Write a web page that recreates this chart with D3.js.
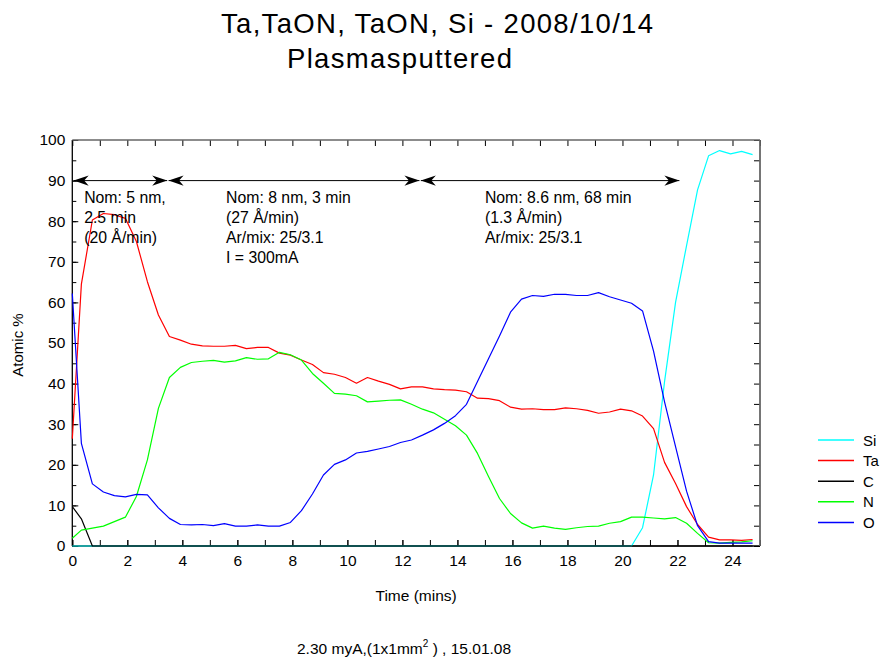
<!DOCTYPE html>
<html>
<head>
<meta charset="utf-8">
<script src="https://cdn.jsdelivr.net/npm/d3@7/dist/d3.min.js"></script>
<style>
  html, body { margin: 0; padding: 0; background: #fff; }
  svg { display: block; font-family: "Liberation Sans", Arial, Helvetica, sans-serif; }
</style>
</head>
<body>
<svg id="chart" width="882" height="659"></svg>
<script>
// Sputter time of each depth-profile cycle (mins)
const times = [0, 0.33, 0.73, 1.13, 1.53, 1.93, 2.33, 2.73, 3.13, 3.53,
  3.93, 4.33, 4.73, 5.13, 5.53, 5.93, 6.33, 6.73, 7.13, 7.53,
  7.93, 8.33, 8.73, 9.13, 9.53, 9.93, 10.33, 10.73, 11.13, 11.53,
  11.93, 12.33, 12.73, 13.13, 13.53, 13.93, 14.33, 14.73, 15.13, 15.53,
  15.93, 16.33, 16.73, 17.13, 17.53, 17.93, 18.33, 18.73, 19.13, 19.53,
  19.93, 20.33, 20.73, 21.13, 21.53, 21.93, 22.33, 22.73, 23.13, 23.53,
  23.93, 24.33, 24.73];

// Atomic % per element
const si = [0, 0, 0, 0, 0, 0, 0, 0, 0, 0,
  0, 0, 0, 0, 0, 0, 0, 0, 0, 0,
  0, 0, 0, 0, 0, 0, 0, 0, 0, 0,
  0, 0, 0, 0, 0, 0, 0, 0, 0, 0,
  0, 0, 0, 0, 0, 0, 0, 0, 0, 0,
  0, 0, 4.5, 17.5, 40.5, 60.0, 74.0, 87.7, 96.1, 97.4,
  96.6, 97.2, 96.4];
const ta = [26.4, 64.5, 80.3, 81.9, 81.6, 80.7, 75.0, 65.1, 56.9, 51.6,
  50.7, 49.7, 49.3, 49.2, 49.2, 49.4, 48.6, 48.9, 48.9, 47.5,
  47.0, 45.8, 44.7, 42.7, 42.3, 41.5, 40.1, 41.5, 40.6, 39.8,
  38.7, 39.2, 39.2, 38.7, 38.5, 38.4, 38.0, 36.4, 36.3, 35.8,
  34.2, 33.7, 33.8, 33.6, 33.6, 34.0, 33.8, 33.4, 32.7, 33.0,
  33.7, 33.3, 32.0, 28.9, 20.6, 15.4, 9.7, 5.3, 2.2, 1.5,
  1.5, 1.4, 1.6];
const c = [9.7, 6.7, 0, 0, 0, 0, 0, 0, 0, 0,
  0, 0, 0, 0, 0, 0, 0, 0, 0, 0,
  0, 0, 0, 0, 0, 0, 0, 0, 0, 0,
  0, 0, 0, 0, 0, 0, 0, 0, 0, 0,
  0, 0, 0, 0, 0, 0, 0, 0, 0, 0,
  0, 0, 0, 0, 0, 0, 0, 0, 0, 0,
  0, 0, 0];
const n = [1.9, 3.9, 4.4, 4.9, 6.0, 7.1, 12.2, 21.2, 33.9, 41.5,
  44.0, 45.2, 45.5, 45.7, 45.3, 45.6, 46.4, 46.0, 46.1, 47.7,
  47.1, 45.8, 42.5, 40.1, 37.6, 37.4, 37.0, 35.5, 35.7, 35.9,
  36.0, 34.9, 33.7, 32.8, 31.2, 29.6, 27.3, 22.8, 17.1, 11.7,
  8.0, 5.7, 4.4, 4.9, 4.4, 4.1, 4.5, 4.8, 4.9, 5.6,
  6.0, 7.1, 7.1, 6.9, 6.7, 7.0, 5.6, 3.1, 0.8, 0.7,
  0.9, 1.0, 1.3];
const o = [62.2, 25.3, 15.3, 13.3, 12.4, 12.1, 12.7, 12.6, 9.4, 6.8,
  5.3, 5.2, 5.3, 5.0, 5.5, 4.9, 4.9, 5.2, 4.9, 4.9,
  5.8, 8.7, 12.8, 17.5, 20.1, 21.2, 22.9, 23.3, 23.9, 24.5,
  25.5, 26.1, 27.3, 28.6, 30.2, 32.1, 34.9, 40.5, 46.1, 51.7,
  57.6, 60.8, 61.7, 61.5, 62.0, 62.0, 61.7, 61.7, 62.4, 61.4,
  60.6, 59.8, 57.9, 48.0, 35.5, 24.5, 13.5, 5.0, 1.1, 0.7,
  0.7, 0.7, 0.7];

const seriesNames = ["Si", "Ta", "C", "N", "O"];
const seriesColors = ["#00ffff", "#ff0000", "#000000", "#00ff00", "#0000ff"];
const seriesValues = [si, ta, c, n, o];

const xTicks = [0, 2, 4, 6, 8, 10, 12, 14, 16, 18, 20, 22, 24];
const yTicks = [0, 10, 20, 30, 40, 50, 60, 70, 80, 90, 100];

// Sputter-step annotations: arrow span (mins) at 90 % and text lines
const steps = [
  { from: 0.05, to: 3.45, textX: 0.43,
    lines: ["Nom: 5 nm,", "2.5 min", "(20 Å/min)"] },
  { from: 3.50, to: 12.62, textX: 5.59,
    lines: ["Nom: 8 nm, 3 min", "(27 Å/min)", "Ar/mix: 25/3.1", "I = 300mA"] },
  { from: 12.67, to: 22.07, textX: 15.0,
    lines: ["Nom: 8.6 nm, 68 min", "(1.3 Å/min)", "Ar/mix: 25/3.1"] }
];
const arrowLevel = 90;
const textTop = 84.6;

const svg = d3.select("#chart");
const x = d3.scaleLinear().domain([0, 25]).range([72.3, 760]);
const y = d3.scaleLinear().domain([0, 100]).range([546, 140]);

// Title
svg.append("text").attr("x", 221).attr("y", 33)
  .attr("font-size", 27.5).attr("textLength", 432).attr("lengthAdjust", "spacing")
  .text("Ta,TaON, TaON, Si - 2008/10/14");
svg.append("text").attr("x", 287).attr("y", 68)
  .attr("font-size", 27.5).attr("textLength", 225).attr("lengthAdjust", "spacing")
  .text("Plasmasputtered");

// Axes with inward ticks
const minorX = d3.range(0, 26, 1);
const minorY = d3.range(0, 101, 5);
const axFont = 15.5;

const gx = svg.append("g").attr("transform", `translate(0,${y(0)})`)
  .call(d3.axisBottom(x).tickValues(xTicks).tickSizeInner(-6).tickSizeOuter(0).tickPadding(9).tickFormat(d3.format("d")));
const gxm = svg.append("g").attr("transform", `translate(0,${y(0)})`)
  .call(d3.axisBottom(x).tickValues(minorX).tickSizeInner(-6).tickSizeOuter(0).tickFormat(""));
const gxt = svg.append("g").attr("transform", `translate(0,${y(100)})`)
  .call(d3.axisTop(x).tickValues(minorX).tickSizeInner(-6).tickSizeOuter(0).tickFormat(""));
const gy = svg.append("g").attr("transform", `translate(${x(0)},0)`)
  .call(d3.axisLeft(y).tickValues(yTicks).tickSizeInner(-6).tickSizeOuter(0).tickPadding(7).tickFormat(d3.format("d")));
const gym = svg.append("g").attr("transform", `translate(${x(0)},0)`)
  .call(d3.axisLeft(y).tickValues(minorY).tickSizeInner(-4).tickSizeOuter(0).tickFormat(""));
const gyr = svg.append("g").attr("transform", `translate(${x(25)},0)`)
  .call(d3.axisRight(y).tickValues(minorY).tickSizeInner(-6).tickSizeOuter(0).tickFormat(""));

[gx, gxm, gxt, gy, gym, gyr].forEach(g => {
  g.select(".domain").remove();
  g.selectAll(".tick line").attr("stroke", "#000").attr("stroke-width", 1);
  g.selectAll(".tick text").attr("font-size", axFont).attr("fill", "#000")
    .attr("font-family", "Liberation Sans, Arial, sans-serif");
});

// Plot frame
svg.append("line").attr("x1", x(0)).attr("x2", x(0)).attr("y1", y(100)).attr("y2", y(0))
  .attr("stroke", "#000").attr("stroke-width", 1.3);
svg.append("line").attr("x1", x(0)).attr("x2", x(25)).attr("y1", y(0)).attr("y2", y(0))
  .attr("stroke", "#000").attr("stroke-width", 1.3);
svg.append("line").attr("x1", x(0)).attr("x2", x(25)).attr("y1", y(100)).attr("y2", y(100))
  .attr("stroke", "#666").attr("stroke-width", 1.6);
svg.append("line").attr("x1", x(25)).attr("x2", x(25)).attr("y1", y(100)).attr("y2", y(0))
  .attr("stroke", "#666").attr("stroke-width", 1.8);

// Axis titles
svg.append("text").attr("transform", `translate(23,${(y(0) + y(100)) / 2 + 2}) rotate(-90)`)
  .attr("text-anchor", "middle").attr("font-size", 15).text("Atomic %");
svg.append("text").attr("x", (x(0) + x(25)) / 2).attr("y", 601)
  .attr("text-anchor", "middle").attr("font-size", 15.5).text("Time (mins)");

// Footer
const foot = svg.append("text").attr("x", 297).attr("y", 654).attr("font-size", 15.5);
foot.append("tspan").text("2.30 myA,(1x1mm");
foot.append("tspan").attr("font-size", 10).attr("dy", -7).text("2");
foot.append("tspan").attr("dy", 7).text(" ) , 15.01.08");

// Element curves
const line = d3.line().x((d, i) => x(times[i])).y(d => y(d));
const plot = svg.append("g");
seriesValues.forEach((vals, k) => {
  plot.append("path").datum(vals)
    .attr("fill", "none").attr("stroke", seriesColors[k]).attr("stroke-width", 1.2)
    .attr("stroke-linejoin", "round").attr("d", line);
});

// Arrow markers
const defs = svg.append("defs");
defs.append("marker").attr("id", "head")
  .attr("markerUnits", "userSpaceOnUse").attr("markerWidth", 20).attr("markerHeight", 14)
  .attr("viewBox", "-16 -7 18 14").attr("refX", 0).attr("refY", 0)
  .attr("orient", "auto-start-reverse")
  .append("path").attr("d", "M0,0 L-15,-5.2 L-10.5,0 L-15,5.2 Z").attr("fill", "#000");

const ann = svg.append("g").attr("font-size", 15.8);
steps.forEach(s => {
  ann.append("line")
    .attr("x1", x(s.from)).attr("x2", x(s.to))
    .attr("y1", y(arrowLevel)).attr("y2", y(arrowLevel))
    .attr("stroke", "#000").attr("stroke-width", 1)
    .attr("marker-start", "url(#head)").attr("marker-end", "url(#head)");
  s.lines.forEach((t, i) => {
    ann.append("text").attr("x", x(s.textX)).attr("y", y(textTop) + i * 20).text(t);
  });
});

// Legend
const legend = svg.append("g").attr("font-size", 15);
seriesNames.forEach((name, k) => {
  const ly = 440 + k * 20.6;
  legend.append("line").attr("x1", 818).attr("x2", 854).attr("y1", ly).attr("y2", ly)
    .attr("stroke", seriesColors[k]).attr("stroke-width", 1.5);
  legend.append("text").attr("x", 863).attr("y", ly + 5.5).text(name);
});
</script>
</body>
</html>
